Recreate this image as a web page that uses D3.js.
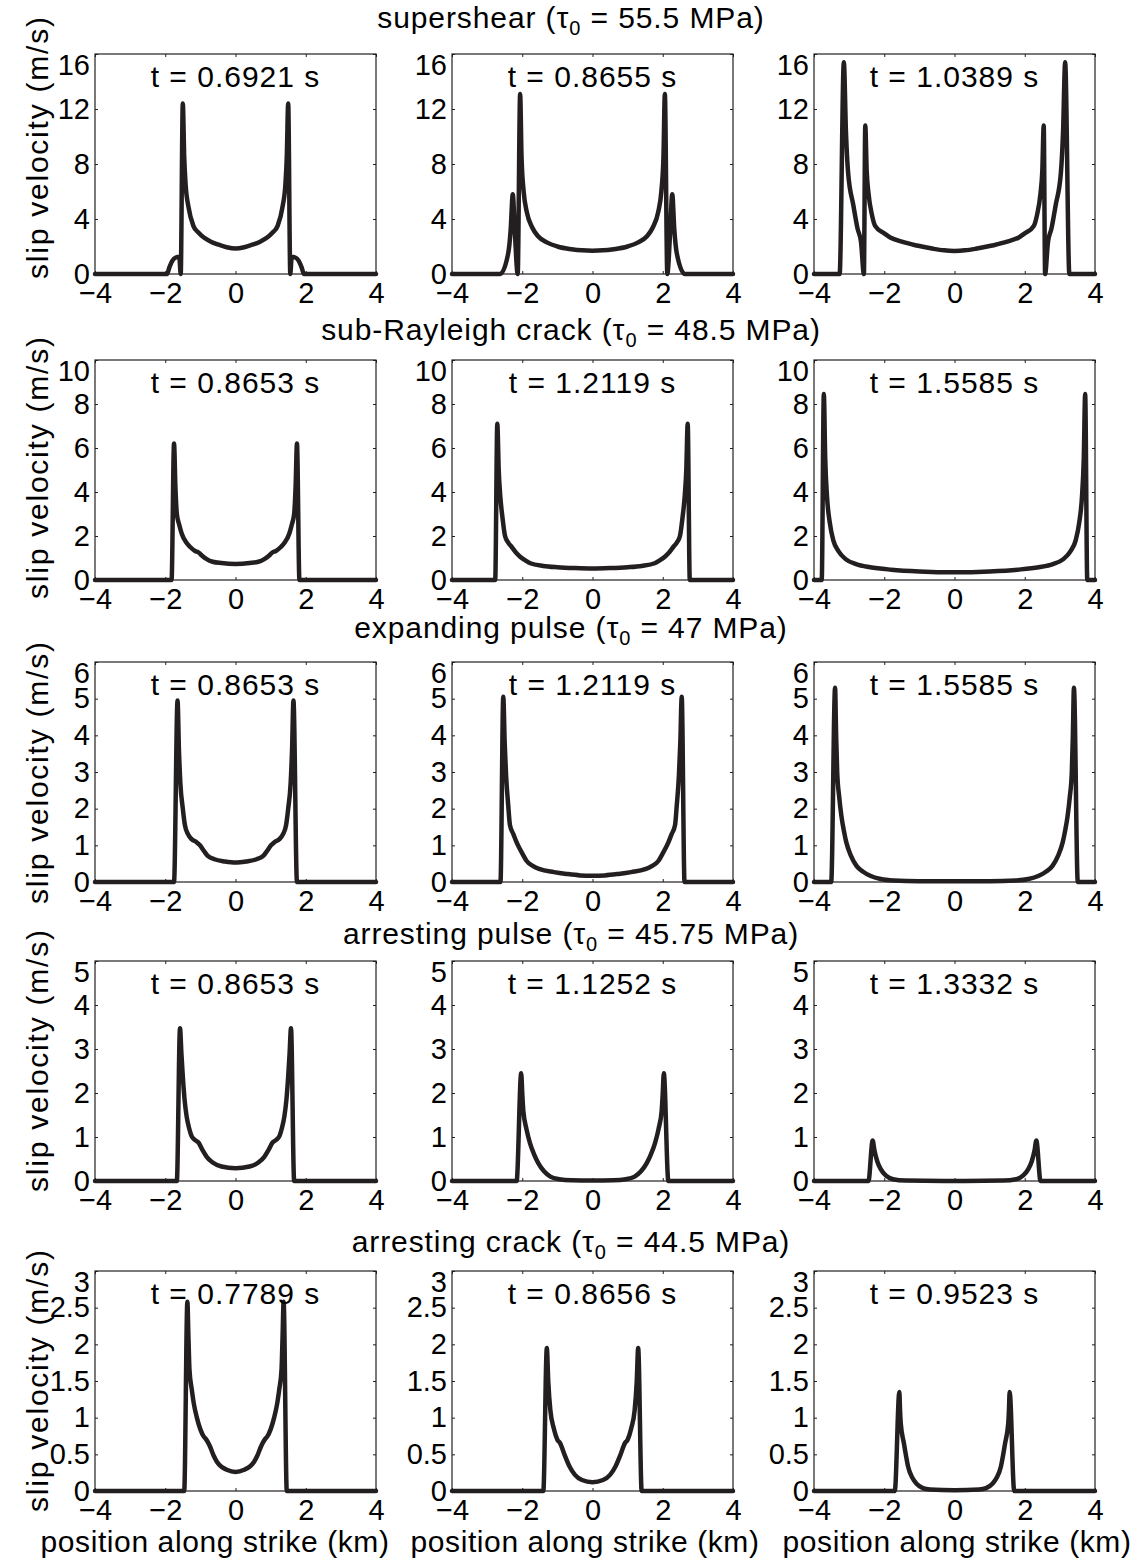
<!DOCTYPE html>
<html>
<head>
<meta charset="utf-8">
<script src="https://cdn.jsdelivr.net/npm/d3@7"></script>
<style>
body{margin:0;background:#fff;}
svg text{font-family:'Liberation Sans',Arial,Helvetica,sans-serif;fill:#000;}
</style>
</head>
<body>
<div id="chart"></div>
<script>
(function(){
	'use strict';

	// rupture cases, one per row
	var titles = ['supershear', 'sub-Rayleigh crack', 'expanding pulse', 'arresting pulse', 'arresting crack'];
	var stress = ['55.5', '48.5', '47', '45.75', '44.5'];
	var times = [
		['0.6921', '0.8655', '1.0389'],
		['0.8653', '1.2119', '1.5585'],
		['0.8653', '1.2119', '1.5585'],
		['0.8653', '1.1252', '1.3332'],
		['0.7789', '0.8656', '0.9523']
	];
	var yMax = [16, 10, 6, 5, 3];
	var yTicks = [
		[0, 4, 8, 12, 16],
		[0, 2, 4, 6, 8, 10],
		[0, 1, 2, 3, 4, 5, 6],
		[0, 1, 2, 3, 4, 5],
		[0, 0.5, 1, 1.5, 2, 2.5, 3]
	];
	var xTicks = [-4, -2, 0, 2, 4];

	// slip velocity profiles [position km, velocity m/s]
	var r1c1 = [[-4,0],[-1.95,0],[-1.88,0.5],[-1.8,0.95],[-1.7,1.2],[-1.6,1.25],[-1.56,0],[-1.5,12.4],[-1.46,8.5],[-1.42,6.5],[-1.34,4.9],[-1.2,3.5],[-1.05,3.0],[-0.9,2.65],[-0.7,2.35],[-0.5,2.15],[-0.25,1.95],[0,1.85],
		[0.25,1.95],[0.5,2.15],[0.7,2.35],[0.9,2.65],[1.05,3.0],[1.2,3.5],[1.34,4.9],[1.42,6.5],[1.46,8.5],[1.5,12.4],[1.56,0],[1.6,1.25],[1.7,1.2],[1.8,0.95],[1.88,0.5],[1.95,0],[4,0]];
	var r1c2 = [[-4,0],[-2.63,0],[-2.4,1.5],[-2.33,3.2],[-2.27,5.8],[-2.21,3.0],[-2.13,0],[-2.06,13.1],[-2.02,8.5],[-1.96,6.0],[-1.87,4.5],[-1.72,3.4],[-1.55,2.75],[-1.3,2.3],[-1.0,2.0],[-0.6,1.8],[-0.3,1.72],[0,1.7],
		[0.3,1.72],[0.6,1.8],[1.0,2.0],[1.3,2.3],[1.55,2.75],[1.72,3.4],[1.87,4.5],[1.96,6.0],[2.02,8.5],[2.06,13.1],[2.13,0],[2.21,3.0],[2.27,5.8],[2.33,3.2],[2.4,1.5],[2.63,0],[4,0]];
	var r1c3 = [[-4,0],[-3.27,0],[-3.15,15.4],[-3.09,10.3],[-3.03,7.4],[-2.88,5.0],[-2.76,3.3],[-2.66,2.3],[-2.58,0],[-2.54,10.8],[-2.5,7.5],[-2.45,5.9],[-2.35,4.3],[-2.26,3.5],[-2.0,2.95],[-1.83,2.66],[-1.5,2.35],[-1.07,2.07],[-0.6,1.83],[-0.3,1.72],[0,1.68],
		[0.3,1.72],[0.6,1.83],[1.07,2.07],[1.5,2.35],[1.83,2.66],[2.0,2.95],[2.26,3.5],[2.35,4.3],[2.45,5.9],[2.5,7.5],[2.54,10.8],[2.58,0],[2.66,2.3],[2.76,3.3],[2.88,5.0],[3.03,7.4],[3.09,10.3],[3.15,15.4],[3.27,0],[4,0]];

	var r2c1 = [[-4,0],[-1.82,0],[-1.75,6.2],[-1.71,4.2],[-1.67,3.0],[-1.6,2.5],[-1.53,2.1],[-1.4,1.7],[-1.29,1.5],[-1.15,1.32],[-1.05,1.25],[-0.95,1.1],[-0.82,0.95],[-0.65,0.83],[-0.4,0.77],[0,0.73],
		[0.4,0.77],[0.65,0.83],[0.82,0.95],[0.95,1.1],[1.05,1.25],[1.15,1.32],[1.29,1.5],[1.4,1.7],[1.53,2.1],[1.6,2.5],[1.67,3.0],[1.71,4.2],[1.75,6.2],[1.82,0],[4,0]];
	var r2c2 = [[-4,0],[-2.77,0],[-2.71,7.1],[-2.67,5.0],[-2.63,3.9],[-2.56,2.8],[-2.49,2.0],[-2.4,1.7],[-2.3,1.5],[-2.18,1.25],[-2.06,1.06],[-1.9,0.88],[-1.77,0.76],[-1.4,0.64],[-1.0,0.58],[-0.5,0.54],[0,0.52],
		[0.5,0.54],[1.0,0.58],[1.4,0.64],[1.77,0.76],[1.9,0.88],[2.06,1.06],[2.18,1.25],[2.3,1.5],[2.4,1.7],[2.49,2.0],[2.56,2.8],[2.63,3.9],[2.67,5.0],[2.71,7.1],[2.77,0],[4,0]];
	var r2c3 = [[-4,0],[-3.78,0],[-3.72,8.45],[-3.68,5.5],[-3.63,3.8],[-3.55,2.6],[-3.45,1.8],[-3.3,1.3],[-3.1,0.95],[-2.8,0.72],[-2.4,0.58],[-1.8,0.47],[-1.0,0.39],[0,0.35],
		[1.0,0.39],[1.8,0.47],[2.4,0.58],[2.8,0.72],[3.1,0.95],[3.3,1.3],[3.45,1.8],[3.55,2.6],[3.63,3.8],[3.68,5.5],[3.72,8.45],[3.78,0],[4,0]];

	var r3c1 = [[-4,0],[-1.75,0],[-1.65,4.95],[-1.61,3.6],[-1.57,2.7],[-1.5,2.0],[-1.44,1.55],[-1.35,1.3],[-1.25,1.17],[-1.1,1.08],[-1.01,1.0],[-0.9,0.85],[-0.79,0.71],[-0.6,0.62],[-0.3,0.56],[0,0.53],
		[0.3,0.56],[0.6,0.62],[0.79,0.71],[0.9,0.85],[1.01,1.0],[1.1,1.08],[1.25,1.17],[1.35,1.3],[1.44,1.55],[1.5,2.0],[1.57,2.7],[1.61,3.6],[1.65,4.95],[1.75,0],[4,0]];
	var r3c2 = [[-4,0],[-2.62,0],[-2.54,5.05],[-2.5,3.8],[-2.46,2.9],[-2.4,2.1],[-2.35,1.55],[-2.25,1.3],[-2.16,1.08],[-2.0,0.78],[-1.88,0.58],[-1.7,0.44],[-1.5,0.35],[-1.1,0.27],[-0.74,0.22],[-0.35,0.18],[0,0.17],
		[0.35,0.18],[0.74,0.22],[1.1,0.27],[1.5,0.35],[1.7,0.44],[1.88,0.58],[2.0,0.78],[2.16,1.08],[2.25,1.3],[2.35,1.55],[2.4,2.1],[2.46,2.9],[2.5,3.8],[2.54,5.05],[2.62,0],[4,0]];
	var r3c3 = [[-4,0],[-3.51,0],[-3.4,5.3],[-3.37,4.0],[-3.34,3.0],[-3.28,2.3],[-3.22,1.8],[-3.15,1.4],[-3.08,1.08],[-2.95,0.72],[-2.79,0.44],[-2.6,0.28],[-2.4,0.17],[-2.1,0.08],[-1.74,0.04],[-1.0,0.02],[0,0.02],
		[1.0,0.02],[1.74,0.04],[2.1,0.08],[2.4,0.17],[2.6,0.28],[2.79,0.44],[2.95,0.72],[3.08,1.08],[3.15,1.4],[3.22,1.8],[3.28,2.3],[3.34,3.0],[3.37,4.0],[3.4,5.3],[3.51,0],[4,0]];

	var r4c1 = [[-4,0],[-1.67,0],[-1.58,3.47],[-1.54,2.9],[-1.5,2.37],[-1.45,1.85],[-1.39,1.46],[-1.32,1.2],[-1.25,1.02],[-1.15,0.93],[-1.06,0.88],[-0.95,0.72],[-0.82,0.55],[-0.65,0.42],[-0.4,0.33],[0,0.29],
		[0.4,0.33],[0.65,0.42],[0.82,0.55],[0.95,0.72],[1.06,0.88],[1.15,0.93],[1.25,1.02],[1.32,1.2],[1.39,1.46],[1.45,1.85],[1.5,2.37],[1.54,2.9],[1.58,3.47],[1.67,0],[4,0]];
	var r4c2 = [[-4,0],[-2.16,0],[-2.03,2.45],[-2.0,2.0],[-1.97,1.6],[-1.88,1.18],[-1.78,0.86],[-1.66,0.6],[-1.54,0.4],[-1.38,0.22],[-1.2,0.1],[-0.95,0.04],[-0.6,0.015],[0,0.01],
		[0.6,0.015],[0.95,0.04],[1.2,0.1],[1.38,0.22],[1.54,0.4],[1.66,0.6],[1.78,0.86],[1.88,1.18],[1.97,1.6],[2.0,2.0],[2.03,2.45],[2.16,0],[4,0]];
	var r4c3 = [[-4,0],[-2.45,0],[-2.33,0.92],[-2.28,0.7],[-2.2,0.45],[-2.1,0.27],[-1.95,0.12],[-1.75,0.04],[-1.4,0.01],[0,0],
		[1.4,0.01],[1.75,0.04],[1.95,0.12],[2.1,0.27],[2.2,0.45],[2.28,0.7],[2.33,0.92],[2.45,0],[4,0]];

	var r5c1 = [[-4,0],[-1.46,0],[-1.37,2.58],[-1.34,2.1],[-1.31,1.65],[-1.25,1.4],[-1.19,1.2],[-1.1,1.0],[-1.0,0.84],[-0.9,0.74],[-0.86,0.72],[-0.78,0.66],[-0.72,0.6],[-0.62,0.48],[-0.53,0.4],[-0.4,0.33],[-0.25,0.29],[0,0.26],
		[0.25,0.29],[0.4,0.33],[0.53,0.4],[0.62,0.48],[0.72,0.6],[0.78,0.66],[0.86,0.72],[0.9,0.74],[1.0,0.84],[1.1,1.0],[1.19,1.2],[1.25,1.4],[1.31,1.65],[1.34,2.1],[1.37,2.58],[1.46,0],[4,0]];
	var r5c2 = [[-4,0],[-1.4,0],[-1.3,1.95],[-1.26,1.5],[-1.2,1.1],[-1.1,0.85],[-1.0,0.7],[-0.92,0.65],[-0.8,0.5],[-0.65,0.33],[-0.5,0.22],[-0.3,0.15],[0,0.12],
		[0.3,0.15],[0.5,0.22],[0.65,0.33],[0.8,0.5],[0.92,0.65],[1.0,0.7],[1.1,0.85],[1.2,1.1],[1.26,1.5],[1.3,1.95],[1.4,0],[4,0]];
	var r5c3 = [[-4,0],[-1.7,0],[-1.57,1.35],[-1.55,1.1],[-1.53,0.92],[-1.44,0.65],[-1.38,0.48],[-1.32,0.33],[-1.2,0.18],[-1.08,0.1],[-0.9,0.04],[-0.7,0.02],[0,0.01],
		[0.7,0.02],[0.9,0.04],[1.08,0.1],[1.2,0.18],[1.32,0.33],[1.38,0.48],[1.44,0.65],[1.53,0.92],[1.55,1.1],[1.57,1.35],[1.7,0],[4,0]];

	var curves = [
		[r1c1, r1c2, r1c3],
		[r2c1, r2c2, r2c3],
		[r3c1, r3c2, r3c3],
		[r4c1, r4c2, r4c3],
		[r5c1, r5c2, r5c3]
	];

	// layout
	var W = 1143, H = 1561;
	var colLeft = [95, 452, 814];
	var rowTop = [54, 360, 662, 961, 1271];
	var pw = 281, ph = 220;
	var titleY = [28, 340, 638, 944, 1252];
	var yLabelMid = [148, 468, 773, 1061, 1381];
	var xLabelMid = [215, 585, 957];
	var ink = '#231f20';

	var svg = d3.select('#chart').append('svg')
		.attr('width', W).attr('height', H);

	var x = d3.scaleLinear().domain([-4, 4]).range([0, pw]);

	function fmtX(d){ return d < 0 ? '\u2212' + Math.abs(d) : String(d); }

	titles.forEach(function(title, r){

		var y = d3.scaleLinear().domain([0, yMax[r]]).range([ph, 0]);

		var t = svg.append('text')
			.attr('x', 571).attr('y', titleY[r])
			.attr('text-anchor', 'middle')
			.style('font-size', '30px')
			.style('letter-spacing', '0.9px');
		t.append('tspan').text(title + ' (\u03c4');
		t.append('tspan').attr('dy', 7).style('font-size', '20px').text('0');
		t.append('tspan').attr('dy', -7).text(' = ' + stress[r] + ' MPa)');

		svg.append('text')
			.attr('transform', 'translate(37,' + yLabelMid[r] + ') rotate(-90)')
			.attr('text-anchor', 'middle')
			.attr('dy', '0.35em')
			.attr('textLength', 262)
			.attr('lengthAdjust', 'spacing')
			.style('font-size', '30px')
			.text('slip velocity (m/s)');

		for (var c = 0; c < 3; c++) {
			var g = svg.append('g')
				.attr('transform', 'translate(' + colLeft[c] + ',' + rowTop[r] + ')');

			g.append('rect')
				.attr('width', pw).attr('height', ph)
				.attr('fill', '#fff')
				.attr('stroke', ink).attr('stroke-width', 1.2);

			var line = d3.line()
				.curve(d3.curveMonotoneX)
				.x(function(d){ return x(d[0]); })
				.y(function(d){ return y(d[1]); });

			g.append('path')
				.datum(curves[r][c])
				.attr('d', line)
				.attr('fill', 'none')
				.attr('stroke', ink)
				.attr('stroke-width', 4.5)
				.attr('stroke-linejoin', 'round')
				.attr('stroke-linecap', 'round');

			var ax = [
				d3.axisBottom(x).tickValues(xTicks).tickSize(-3).tickPadding(8).tickFormat(fmtX),
				d3.axisTop(x).tickValues(xTicks).tickSize(-3).tickFormat(''),
				d3.axisLeft(y).tickValues(yTicks[r]).tickSize(-3).tickPadding(5).tickFormat(function(d){ return String(d); }),
				d3.axisRight(y).tickValues(yTicks[r]).tickSize(-3).tickFormat('')
			];
			var pos = ['translate(0,' + ph + ')', null, null, 'translate(' + pw + ',0)'];

			ax.forEach(function(a, i){
				var ag = g.append('g').attr('transform', pos[i]).call(a);
				ag.select('.domain').remove();
				ag.selectAll('line').attr('stroke', ink);
				ag.selectAll('text')
					.attr('font-family', null).style('font-size', '29px').attr('fill', '#000');
				ag.attr('font-size', null).attr('font-family', null);
			});

			// top tick label sits inside the frame height, as in the source figure
			g.selectAll('.tick text')
				.filter(function(d){ return d === yMax[r] && d3.select(this).attr('x') < 0; })
				.attr('dy', '0.71em');

			g.append('text')
				.attr('x', pw / 2).attr('y', 33)
				.attr('text-anchor', 'middle')
				.style('font-size', '30px')
				.style('letter-spacing', '1px')
				.text('t = ' + times[r][c] + ' s');
		}
	});

	xLabelMid.forEach(function(cx){
		svg.append('text')
			.attr('x', cx).attr('y', 1552)
			.attr('text-anchor', 'middle')
			.style('font-size', '30px')
			.style('letter-spacing', '0.6px')
			.text('position along strike (km)');
	});

})();
</script>
</body>
</html>
